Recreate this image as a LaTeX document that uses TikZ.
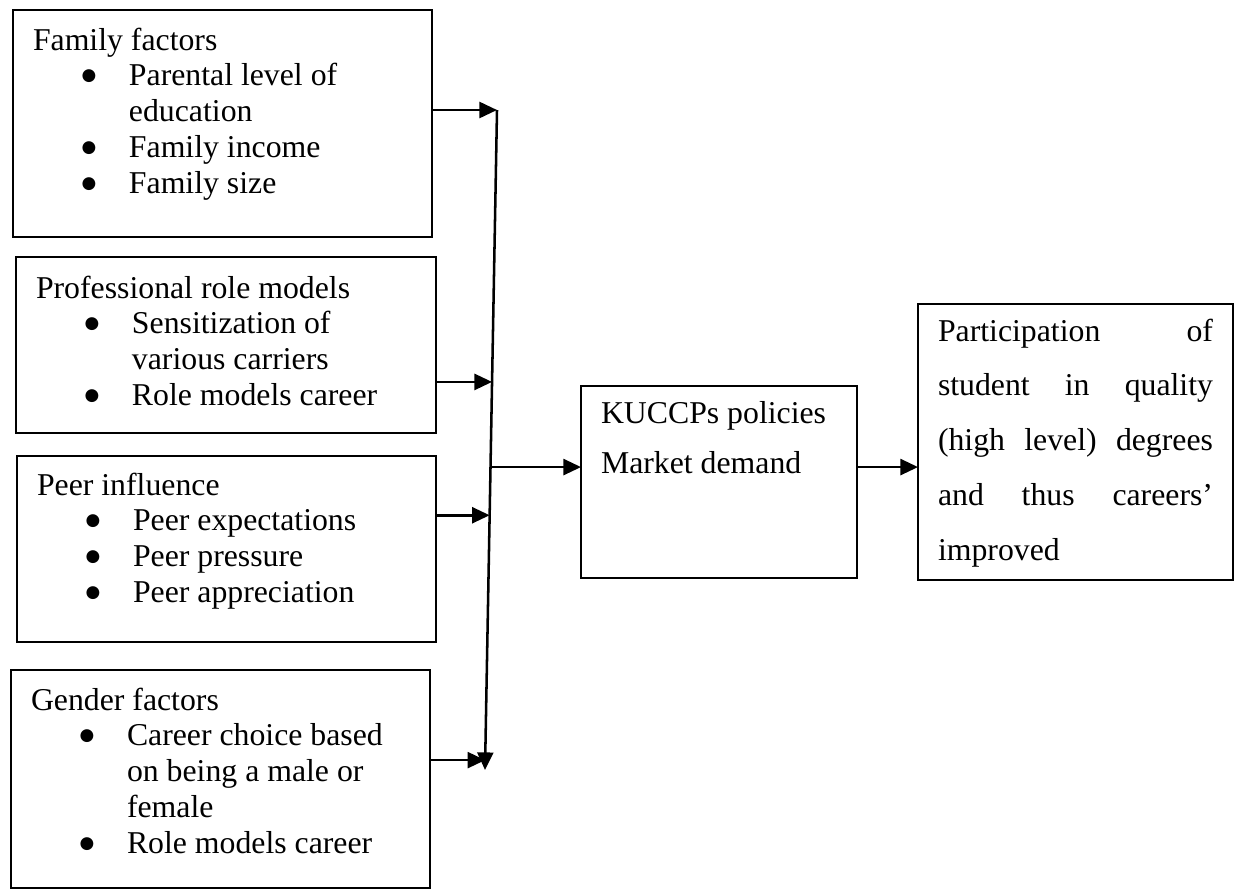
\documentclass[tikz,border=0pt]{standalone}
\usepackage{fontspec}
\setmainfont{Liberation Serif}
\newfontfamily\dotfont{DejaVu Sans}
\usetikzlibrary{arrows.meta, calc}

\newcommand{\bul}{\hspace*{1.4cm}\makebox[0pt]{\raisebox{3.6pt}{\dotfont\fontsize{12pt}{12pt}\selectfont ●}}\hspace*{1cm}}
\newcommand{\cnt}{\hspace*{2.4cm}}
\newcommand{\boxtext}[4]{\parbox[t][#2][t]{#1}{\rule{0pt}{#3}#4}}

\begin{document}
\begin{tikzpicture}[
font=\fontsize{22.6pt}{25.5pt}\selectfont,
factor/.style={
rectangle,
draw, line width=1.1pt,
anchor=north west,
inner xsep=0.5cm, inner ysep=0pt, outer sep=0pt
},
flow/.style={-{Triangle[length=4.4mm, width=4mm]}, line width=1.8pt}
]

\useasboundingbox (0,0) rectangle (30.95,-22.275);

\node[factor] (family) at (0.325,-0.25)
{\boxtext{9.475cm}{5.675cm}{1cm}{Family factors\\
\bul Parental level of\\
\cnt education\\
\bul Family income\\
\bul Family size}};

\node[factor] (rolemodel) at (0.4,-6.425)
{\boxtext{9.5cm}{4.4cm}{1.025cm}{Professional role models\\
\bul Sensitization of\\
\cnt various carriers\\
\bul Role models career}};

\node[factor] (peer) at (0.425,-11.4)
{\boxtext{9.475cm}{4.65cm}{0.975cm}{Peer influence\\
\bul Peer expectations\\
\bul Peer pressure\\
\bul Peer appreciation}};

\node[factor] (gender) at (0.275,-16.75)
{\boxtext{9.475cm}{5.45cm}{1cm}{Gender factors\\
\bul Career choice based\\
\cnt on being a male or\\
\cnt female\\
\bul Role models career}};

\node[factor] (kuccps) at (14.525,-9.65)
{\boxtext{5.9cm}{4.8cm}{0.925cm}{\fontsize{22.6pt}{36pt}\selectfont
KUCCPs policies\\
Market demand}};

\node[factor] (outcome) at (22.95,-7.6)
{\boxtext{6.875cm}{6.9cm}{0.925cm}{\fontsize{22.6pt}{39pt}\selectfont
Participation\hfill of\\
student\hfill in\hfill quality\\
(high\hfill level)\hfill degrees\\
and\hfill thus\hfill careers’\\
improved}};

\coordinate (bartop) at (12.425,-2.75);
\coordinate (barbot) at (12.125,-19.25);
\coordinate (j2) at ($(bartop)!0.412!(barbot)$);
\coordinate (j3) at ($(bartop)!0.614!(barbot)$);
\coordinate (j4) at ($(bartop)!0.985!(barbot)$);
\coordinate (j5) at ($(bartop)!0.541!(barbot)$);

\draw[flow] (family.east |- bartop) -- (bartop);

\draw[flow] (bartop) -- (barbot);

\draw[flow] (rolemodel.east |- j2) -- (j2);
\draw[flow] (peer.east |- j3) -- (j3);
\draw[flow] (gender.east |- j4) -- (j4);

\draw[flow] (j5) -- (kuccps.west |- j5);
\draw[flow] (kuccps.east |- j5) -- (outcome.west |- j5);

\end{tikzpicture}
\end{document}
